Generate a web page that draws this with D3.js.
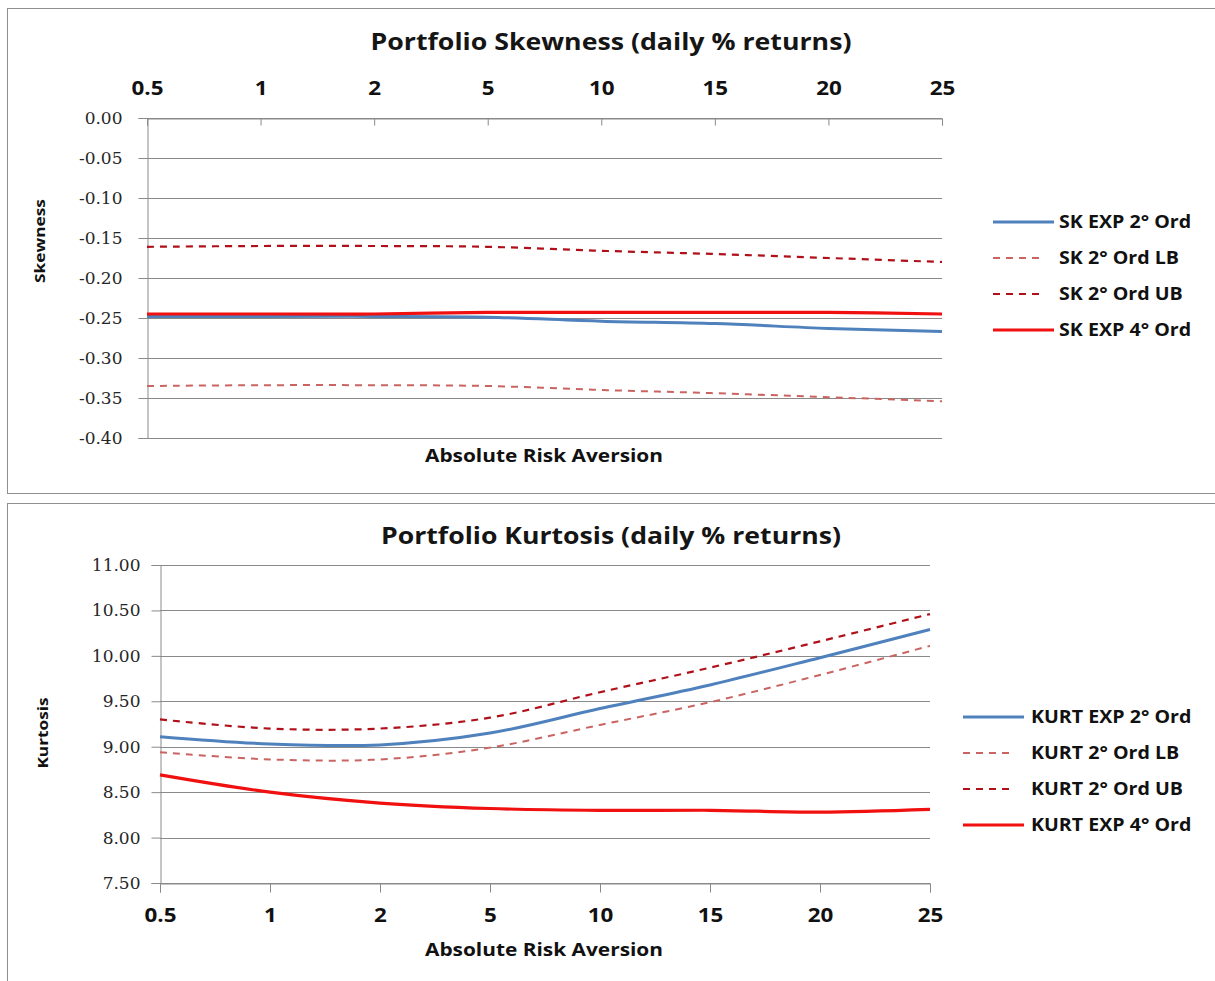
<!DOCTYPE html>
<html>
<head>
<meta charset="utf-8">
<script src="https://cdn.jsdelivr.net/npm/d3@7"></script>
<style>
  html, body { margin: 0; padding: 0; background: #fff; }
  svg { display: block; }
</style>
</head>
<body>
<svg id="chart" width="1215" height="981"></svg>
<script>
// Absolute risk aversion levels (category axis)
const riskAversion = ["0.5", "1", "2", "5", "10", "15", "20", "25"];

// Portfolio skewness series
const skExp2 = [-0.248, -0.248, -0.248, -0.249, -0.254, -0.257, -0.263, -0.267];
const skLB   = [-0.335, -0.334, -0.334, -0.335, -0.340, -0.344, -0.349, -0.354];
const skUB   = [-0.161, -0.160, -0.160, -0.161, -0.166, -0.170, -0.175, -0.180];
const skExp4 = [-0.245, -0.245, -0.245, -0.243, -0.243, -0.243, -0.243, -0.245];
const skTicks = [0, -0.05, -0.10, -0.15, -0.20, -0.25, -0.30, -0.35, -0.40];

// Portfolio kurtosis series
const kuExp2 = [9.11, 9.03, 9.02, 9.15, 9.42, 9.68, 9.98, 10.29];
const kuLB   = [8.94, 8.86, 8.86, 8.99, 9.24, 9.49, 9.79, 10.11];
const kuUB   = [9.30, 9.20, 9.20, 9.32, 9.60, 9.87, 10.16, 10.46];
const kuExp4 = [8.69, 8.50, 8.38, 8.32, 8.30, 8.30, 8.28, 8.31];
const kuTicks = [11.00, 10.50, 10.00, 9.50, 9.00, 8.50, 8.00, 7.50];

const skLabels = ["SK EXP 2° Ord", "SK 2° Ord LB", "SK 2° Ord UB", "SK EXP 4° Ord"];
const kuLabels = ["KURT EXP 2° Ord", "KURT 2° Ord LB", "KURT 2° Ord UB", "KURT EXP 4° Ord"];

const seriesStyle = [
  { color: "#4F81BD", width: 3,   dash: null },
  { color: "#C96462", width: 2,   dash: "7,6" },
  { color: "#B0101A", width: 2.2, dash: "7,6" },
  { color: "#F01010", width: 3.2, dash: null }
];

const svg = d3.select("#chart");
const sansFont = "'Open Sans', Lato, sans-serif";
const serifFont = "'DejaVu Serif', 'Liberation Serif', serif";
const gridColor = "#8a8a8a";
const fmt = v => d3.format(".2f")(v).replace("\u2212", "-");

// Panel frames
svg.append("rect").attr("x", 7.5).attr("y", 8.5).attr("width", 1220).attr("height", 485)
  .attr("fill", "none").attr("stroke", "#8f8f8f");
svg.append("rect").attr("x", 7.5).attr("y", 503.5).attr("width", 1220).attr("height", 490)
  .attr("fill", "none").attr("stroke", "#8f8f8f");

// widen text horizontally by a factor of its natural length
function stretch(sel, k) {
  sel.each(function () {
    const w = this.getComputedTextLength() * k;
    d3.select(this).attr("textLength", w).attr("lengthAdjust", "spacingAndGlyphs");
  });
}
function fitWidth(sel, w) {
  sel.attr("textLength", w).attr("lengthAdjust", "spacingAndGlyphs");
}

function drawPanel(p) {
  const g = svg.append("g");
  const x = d3.scalePoint().domain(riskAversion).range([p.x0, p.x1]);
  const y = d3.scaleLinear().domain(p.domain).range([p.y0, p.y1]);

  // horizontal gridlines
  g.append("g").selectAll("line").data(p.ticks).join("line")
    .attr("x1", p.x0).attr("x2", p.x1)
    .attr("y1", d => Math.round(y(d)) + 0.5).attr("y2", d => Math.round(y(d)) + 0.5)
    .attr("stroke", gridColor).attr("stroke-width", 1);

  // value axis
  const yAxis = d3.axisLeft(y).tickValues(p.ticks).tickSize(9).tickPadding(p.yPad)
    .tickFormat(fmt);
  const ya = g.append("g").attr("transform", `translate(${p.x0 + 0.5},0)`).call(yAxis);
  ya.select(".domain").attr("stroke", gridColor);
  ya.selectAll(".tick line").attr("stroke", gridColor);
  ya.selectAll("text").attr("font-family", serifFont).attr("font-size", 17)
    .attr("fill", "#262626");

  // category axis
  const xAxis = (p.xTop ? d3.axisTop(x) : d3.axisBottom(x))
    .tickSize(p.xTop ? -7 : 9).tickPadding(0);
  const xa = g.append("g").attr("transform", `translate(0,${Math.round(p.xAxisY) + 0.5})`).call(xAxis);
  xa.select(".domain").attr("stroke", gridColor);
  xa.selectAll(".tick line").attr("stroke", gridColor);
  xa.selectAll("text").attr("font-family", sansFont).attr("font-weight", "bold")
    .attr("font-size", 20).attr("fill", "#111")
    .attr("y", p.xLabelDy).attr("dy", "0.35em")
    .call(stretch, 1.12);

  // series lines
  const line = d3.line()
    .x((d, i) => x(riskAversion[i]))
    .y(d => y(d))
    .curve(d3.curveCatmullRom.alpha(0.5));
  p.series.forEach((s, i) => {
    const st = seriesStyle[i];
    g.append("path").datum(s).attr("d", line)
      .attr("fill", "none").attr("stroke", st.color).attr("stroke-width", st.width)
      .attr("stroke-dasharray", st.dash).attr("stroke-linejoin", "round");
  });

  // titles
  g.append("text").attr("x", p.titleX).attr("y", p.titleY).attr("text-anchor", "middle")
    .attr("dy", "0.35em").attr("font-family", sansFont).attr("font-size", 23)
    .attr("font-weight", "bold").attr("fill", "#151515").text(p.title)
    .call(fitWidth, p.titleW);
  g.append("text").attr("x", 544).attr("y", p.xTitleY).attr("text-anchor", "middle")
    .attr("dy", "0.35em").attr("font-family", sansFont).attr("font-size", 17)
    .attr("font-weight", "bold").attr("fill", "#111").text("Absolute Risk Aversion")
    .call(fitWidth, 238);
  g.append("text").attr("transform", `translate(${p.yTitleX},${p.yTitleY}) rotate(-90)`)
    .attr("text-anchor", "middle").attr("dy", "0.35em").attr("font-family", sansFont)
    .attr("font-size", 15).attr("font-weight", "bold").attr("fill", "#111").text(p.yTitle)
    .call(stretch, 1.15);

  // legend
  p.labels.forEach((lab, i) => {
    const st = seriesStyle[i];
    const ly = p.legendY + i * 36;
    g.append("line").attr("x1", p.legendX).attr("x2", st.dash ? p.legendX + 50 : p.legendX + 61)
      .attr("y1", ly).attr("y2", ly)
      .attr("stroke", st.color).attr("stroke-width", st.width).attr("stroke-dasharray", st.dash);
    g.append("text").attr("x", p.legendX + p.legendGap).attr("y", ly).attr("dy", "0.35em")
      .attr("font-family", sansFont).attr("font-size", 18).attr("font-weight", "bold")
      .attr("fill", "#111").text(lab)
      .call(stretch, 1.09);
  });
}

drawPanel({
  x0: 147, x1: 942, y0: 118, y1: 438, domain: [0, -0.40], ticks: skTicks,
  xTop: true, xAxisY: 118, xLabelDy: -31, yPad: 16,
  series: [skExp2, skLB, skUB, skExp4],
  title: "Portfolio Skewness (daily % returns)", titleX: 611, titleY: 42, titleW: 481,
  xTitleY: 456, yTitle: "Skewness", yTitleX: 40, yTitleY: 241,
  labels: skLabels, legendX: 993, legendY: 222, legendGap: 66
});

drawPanel({
  x0: 160, x1: 930, y0: 883, y1: 565, domain: [7.5, 11.0], ticks: kuTicks,
  xTop: false, xAxisY: 883, xLabelDy: 31, yPad: 11,
  series: [kuExp2, kuLB, kuUB, kuExp4],
  title: "Portfolio Kurtosis (daily % returns)", titleX: 611, titleY: 536, titleW: 460,
  xTitleY: 950, yTitle: "Kurtosis", yTitleX: 43, yTitleY: 733,
  labels: kuLabels, legendX: 963, legendY: 717, legendGap: 68
});
</script>
</body>
</html>
